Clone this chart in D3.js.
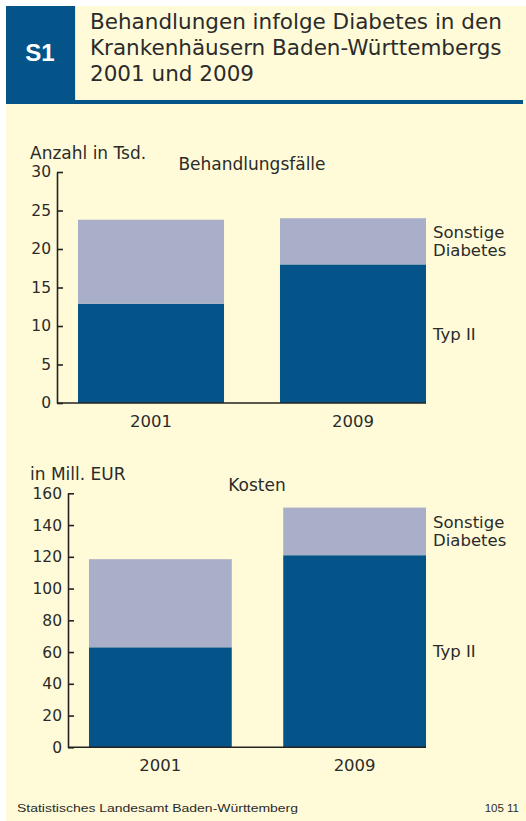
<!DOCTYPE html>
<html>
<head>
<meta charset="utf-8">
<script src="https://cdn.jsdelivr.net/npm/d3@7"></script>
<style>
  body { margin: 0; background: #fff; }
  text { font-family: "DejaVu Sans", "Liberation Sans", sans-serif; fill: #2b2b2b; }
</style>
</head>
<body>
<div id="chart"></div>
<script>
// data
const years = ["2001", "2009"];
const faelleTyp2 = [12.9, 18.0];
const faelleSonstige = [10.9, 6.0];
const kostenTyp2 = [63, 121];
const kostenSonstige = [55.5, 30];
const faelleTicks = [0, 5, 10, 15, 20, 25, 30];
const kostenTicks = [0, 20, 40, 60, 80, 100, 120, 140, 160];
const seriesNames = ["Typ II", "Sonstige", "Diabetes"];

const width = 526, height = 821;
const dark = "#04548a", light = "#a9aec9", cream = "#fffbd8";

let svg = d3.select("#chart").append("svg")
  .attr("width", width)
  .attr("height", height);

// background + header
svg.append("rect").attr("x", 6).attr("y", 6).attr("width", width - 6).attr("height", height - 6).attr("fill", cream);
svg.append("rect").attr("x", 6).attr("y", 6).attr("width", 69).attr("height", 96).attr("fill", dark);
svg.append("rect").attr("x", 6).attr("y", 100).attr("width", 517).attr("height", 4).attr("fill", dark);
svg.append("line").attr("x1", 75.5).attr("x2", 75.5).attr("y1", 6).attr("y2", 100)
  .attr("stroke", "#e8e4c4").attr("stroke-width", 1);

svg.append("text").attr("x", 40).attr("y", 61)
  .attr("text-anchor", "middle")
  .style("fill", "#fff").style("font-size", "24px").style("font-weight", "bold")
  .style("font-family", "Liberation Sans, Arial, sans-serif")
  .text("S1");

const titleLines = ["Behandlungen infolge Diabetes in den", "Krankenhäusern Baden-Württembergs", "2001 und 2009"];
svg.append("g").selectAll("text")
  .data(titleLines)
  .join("text")
  .attr("x", 90)
  .attr("y", (d, i) => 29 + i * 26)
  .style("font-size", "21.5px")
  .text(d => d);

function drawPanel(opts) {
  let g = svg.append("g");

  let x = d3.scaleBand()
    .domain(years)
    .range([opts.left, 447])
    .paddingInner(opts.padIn)
    .paddingOuter(opts.padOut);

  let y = d3.scaleLinear()
    .domain([0, opts.ticks[opts.ticks.length - 1]])
    .range([opts.bottom, opts.top]);

  let rows = years.map((yr, i) => ({ year: yr, typ2: opts.typ2[i], sonst: opts.sonst[i] }));
  let stacked = d3.stack().keys(["typ2", "sonst"])(rows);

  g.selectAll("g.layer")
    .data(stacked)
    .join("g")
    .attr("class", "layer")
    .attr("fill", (d, i) => i === 0 ? dark : light)
    .selectAll("rect")
    .data(d => d)
    .join("rect")
    .attr("x", d => x(d.data.year))
    .attr("width", x.bandwidth())
    .attr("y", d => y(d[1]))
    .attr("height", d => y(d[0]) - y(d[1]));

  // y axis, ticks pointing inward
  let yAxis = g.append("g")
    .attr("transform", `translate(${opts.left},0)`)
    .call(d3.axisLeft(y).tickValues(opts.ticks).tickSizeInner(-6).tickSizeOuter(0).tickPadding(6));
  yAxis.selectAll("path, line").attr("stroke", "#222").attr("stroke-width", 1.6);
  yAxis.selectAll("text").style("font-size", "15.5px")
    .style("font-family", "DejaVu Sans, sans-serif").attr("fill", "#2b2b2b");

  // baseline
  g.append("line")
    .attr("x1", opts.left).attr("x2", x("2009") + x.bandwidth())
    .attr("y1", y(0)).attr("y2", y(0))
    .attr("stroke", "#222").attr("stroke-width", 1.6);

  g.selectAll("text.cat")
    .data(years)
    .join("text")
    .attr("class", "cat")
    .attr("x", d => x(d) + x.bandwidth() / 2)
    .attr("y", y(0) + 24)
    .attr("text-anchor", "middle")
    .style("font-size", "16.5px")
    .text(d => d);

  g.append("text").attr("x", 30).attr("y", opts.top - 13)
    .style("font-size", "17px").text(opts.unit);
  g.append("text").attr("x", opts.titleX).attr("y", opts.top - 2)
    .attr("text-anchor", "middle").style("font-size", "17px").text(opts.title);

  // series labels beside last bar
  let last = rows[rows.length - 1];
  let lx = x("2009") + x.bandwidth() + 7;
  let sMid = y(last.typ2 + last.sonst / 2);
  g.append("text").attr("x", lx).attr("y", sMid - 3).style("font-size", "16.5px").text(seriesNames[1]);
  g.append("text").attr("x", lx).attr("y", sMid + 15).style("font-size", "16.5px").text(seriesNames[2]);
  g.append("text").attr("x", lx).attr("y", y(last.typ2 / 2) + 6).style("font-size", "16.5px").text(seriesNames[0]);
}

drawPanel({
  left: 57, top: 172, bottom: 403, padIn: 0.277, padOut: 0.104,
  ticks: faelleTicks, typ2: faelleTyp2, sonst: faelleSonstige,
  unit: "Anzahl in Tsd.", title: "Behandlungsfälle", titleX: 252
});

drawPanel({
  left: 68, top: 493.3, bottom: 747.3, padIn: 0.265, padOut: 0.108,
  ticks: kostenTicks, typ2: kostenTyp2, sonst: kostenSonstige,
  unit: "in Mill. EUR", title: "Kosten", titleX: 257
});

// footer
svg.append("text").attr("x", 17).attr("y", 812)
  .style("font-size", "11.5px").style("font-family", "Liberation Sans, Arial, sans-serif")
  .attr("textLength", 281).attr("lengthAdjust", "spacingAndGlyphs")
  .text("Statistisches Landesamt Baden-Württemberg");
svg.append("text").attr("x", 519).attr("y", 812).attr("text-anchor", "end")
  .style("font-size", "11.5px").style("font-family", "Liberation Sans, Arial, sans-serif")
  .text("105 11");
</script>
</body>
</html>
